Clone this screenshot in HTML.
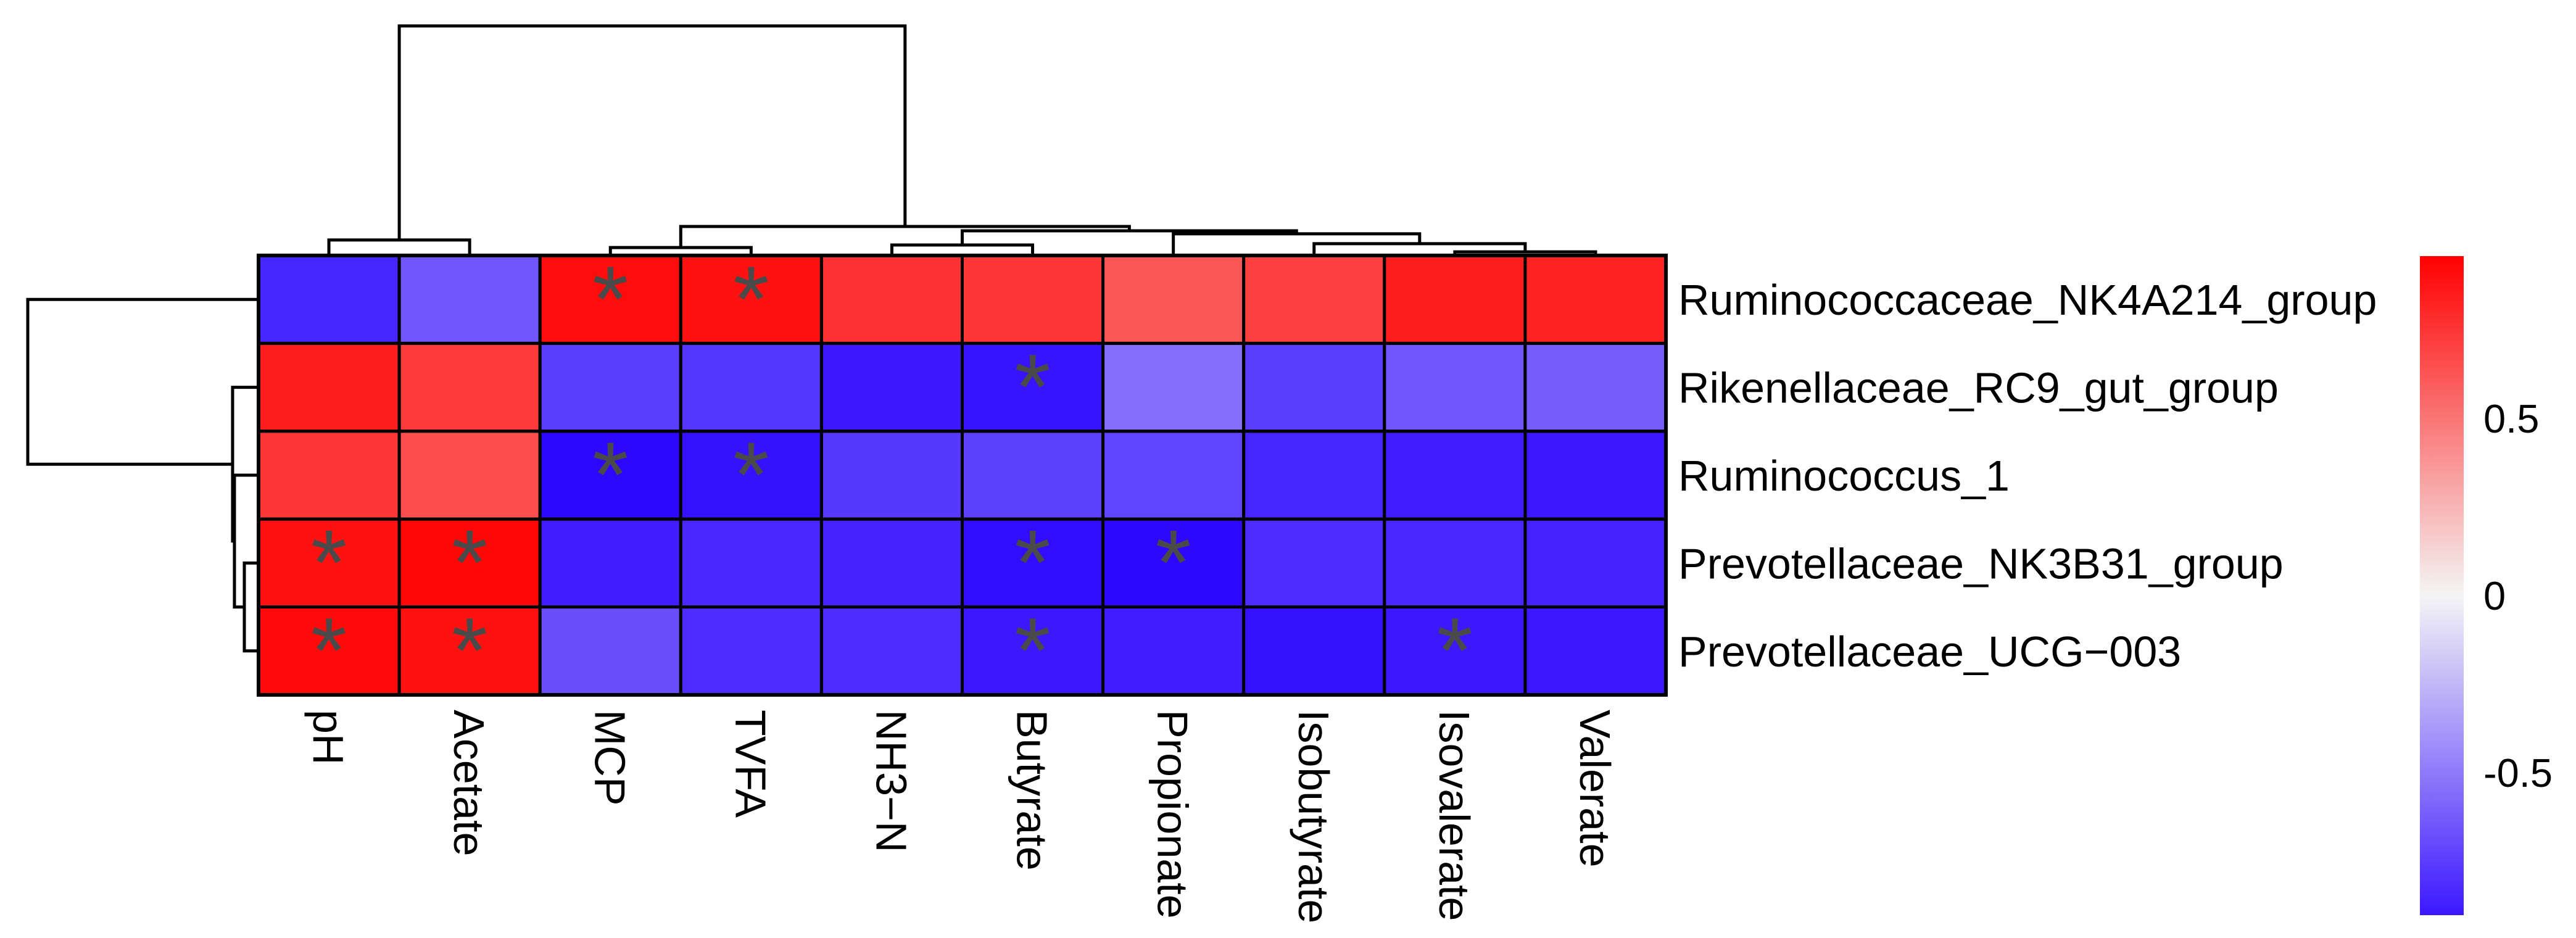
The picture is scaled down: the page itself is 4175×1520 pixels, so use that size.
<!DOCTYPE html>
<html><head><meta charset="utf-8"><style>
html,body{margin:0;padding:0;background:#fff;}
svg{display:block;font-family:"Liberation Sans",Arial,sans-serif;}
</style></head><body>
<svg id="chart" width="4175" height="1520" viewBox="0 0 4175 1520" xmlns="http://www.w3.org/2000/svg">
<defs>
<linearGradient id="cbgrad" x1="0" y1="1" x2="0" y2="0">
<stop offset="0" stop-color="#3c18fe"/>
<stop offset="0.485" stop-color="#f5f5f5"/>
<stop offset="1" stop-color="#ff0000"/>
</linearGradient>
</defs>
<g id="cells"></g><g id="grid"></g><g id="stars"></g><g id="coldend"></g><g id="rowdend"></g><g id="labels"></g><g id="legend"></g>
</svg>
<script>
const colLabels = ["pH","Acetate","MCP","TVFA","NH3\u2212N","Butyrate","Propionate","Isobutyrate","Isovalerate","Valerate"];
const rowLabels = ["Ruminococcaceae_NK4A214_group","Rikenellaceae_RC9_gut_group","Ruminococcus_1","Prevotellaceae_NK3B31_group","Prevotellaceae_UCG\u2212003"];
const row1 = [-0.85,-0.65,0.95,0.93,0.80,0.78,0.65,0.74,0.88,0.86];
const row2 = [0.88,0.76,-0.75,-0.78,-0.90,-0.92,-0.55,-0.75,-0.65,-0.62];
const row3 = [0.78,0.68,-0.97,-0.93,-0.77,-0.74,-0.72,-0.85,-0.88,-0.90];
const row4 = [0.93,0.97,-0.88,-0.84,-0.86,-0.95,-0.97,-0.82,-0.84,-0.86];
const row5 = [0.96,0.93,-0.68,-0.82,-0.82,-0.90,-0.88,-0.93,-0.90,-0.90];
const values = [row1,row2,row3,row4,row5];
const sig1 = [0,0,1,1,0,0,0,0,0,0];
const sig2 = [0,0,0,0,0,1,0,0,0,0];
const sig3 = [0,0,1,1,0,0,0,0,0,0];
const sig4 = [1,1,0,0,0,1,1,0,0,0];
const sig5 = [1,1,0,0,0,1,0,0,1,0];
const sigs = [sig1,sig2,sig3,sig4,sig5];
// column dendrogram merges (hclust style: negative = leaf index+1, positive = merge step), relative height
const colMergeA = [-9,-3,-5,-8,-7,3,2,-1,8];
const colMergeB = [-10,-4,-6,1,4,5,6,-2,7];
const colMergeH = [0.013,0.032,0.043,0.049,0.092,0.105,0.124,0.065,1.0];
const rowMergeA = [-4,-3,-2,-1];
const rowMergeB = [-5,1,2,3];
const rowMergeH = [0.059,0.102,0.110,1.0];
const legendTicks = [0.5,0,-0.5];
const legendTickLabels = ["0.5","0","-0.5"];

const NS="http://www.w3.org/2000/svg";
const X0=419,X1=2700,Y0=414,Y1=1126;
const cw=(X1-X0)/colLabels.length, ch=(Y1-Y0)/rowLabels.length;
function xCol(i){return X0+cw*i;}
function yRow(j){return Y0+ch*j;}
function mk(tag,attrs,parent){const e=document.createElementNS(NS,tag);for(const k in attrs)e.setAttribute(k,attrs[k]);parent.appendChild(e);return e;}
function color(v){
  const w=[245,245,245];let c;
  if(v>=0){const t=Math.min(1,v);c=[w[0]+(255-w[0])*t,w[1]*(1-t),w[2]*(1-t)];}
  else{const t=Math.min(1,-v);c=[w[0]+(40-w[0])*t,w[1]*(1-t),w[2]+(255-w[2])*t];}
  return "rgb("+c.map(Math.round).join(",")+")";
}
const gCells=document.getElementById("cells"),gGrid=document.getElementById("grid"),gStars=document.getElementById("stars");
values.forEach((row,j)=>row.forEach((v,i)=>{
  const r=mk("rect",{x:xCol(i),y:yRow(j),width:cw,height:ch,fill:color(v),stroke:"#000","stroke-width":5},gCells);
  
  
  if(sigs[j][i]){
    const s=mk("text",{x:xCol(i)+cw/2,y:yRow(j)+122,"text-anchor":"middle","font-size":150,fill:"#4a4a4a"},gStars);
    s.textContent="*";
    
    
  }
}));
const outer=mk("rect",{x:X0,y:Y0,width:X1-X0,height:Y1-Y0,fill:"none",stroke:"#000","stroke-width":6},gGrid);



function drawDend(A,B,H,leafPos,base,span,vertical,g,name){
  const pos=[],hgt=[];
  const get=(k)=>k<0?[leafPos(-k-1),0]:[pos[k-1],hgt[k-1]];
  const d=(hh)=>base-hh*span;
  for(let s=0;s<A.length;s++){
    const [pa,ha]=get(A[s]),[pb,hb]=get(B[s]);const h=H[s];
    let path;
    if(vertical){
      path=`M${pa},${d(ha)}V${d(h)}H${pb}V${d(hb)}`;
    }else{
      path=`M${d(ha)},${pa}H${d(h)}V${pb}H${d(hb)}`;
    }
    const p=mk("path",{d:path,fill:"none",stroke:"#000","stroke-width":5},g);
    
    
    pos.push((pa+pb)/2);hgt.push(h);
  }
}
drawDend(colMergeA,colMergeB,colMergeH,i=>xCol(i)+cw/2,Y0-1,371,true,document.getElementById("coldend"),'column-dendrogram-branch');
drawDend(rowMergeA,rowMergeB,rowMergeH,j=>yRow(j)+ch/2,X0-1,373,false,document.getElementById("rowdend"),'row-dendrogram-branch');

const gL=document.getElementById("labels");
rowLabels.forEach((t,j)=>{
  const e=mk("text",{x:2720,y:yRow(j)+ch/2+25,"font-size":70,fill:"#000"},gL);
  e.textContent=t;
  
  
});
colLabels.forEach((t,i)=>{
  const cx=xCol(i)+cw/2;
  const e=mk("text",{x:0,y:0,"font-size":70,fill:"#000",transform:`translate(${cx-25},1150) rotate(90)`},gL);
  e.textContent=t;
  
  
});
const gLeg=document.getElementById("legend");
const LB0=415,LB1=1483,VMAX=0.958,VMIN=-0.902;
function yLeg(v){return LB0+(VMAX-v)/(VMAX-VMIN)*(LB1-LB0);}
const bar=mk("rect",{x:3922,y:LB0,width:71,height:LB1-LB0,fill:"url(#cbgrad)"},gLeg);


legendTicks.forEach((v,k)=>{
  const e=mk("text",{x:4025,y:yLeg(v)+23,"font-size":65,fill:"#000"},gLeg);
  e.textContent=legendTickLabels[k];
  
  
});
</script>
</body></html>
